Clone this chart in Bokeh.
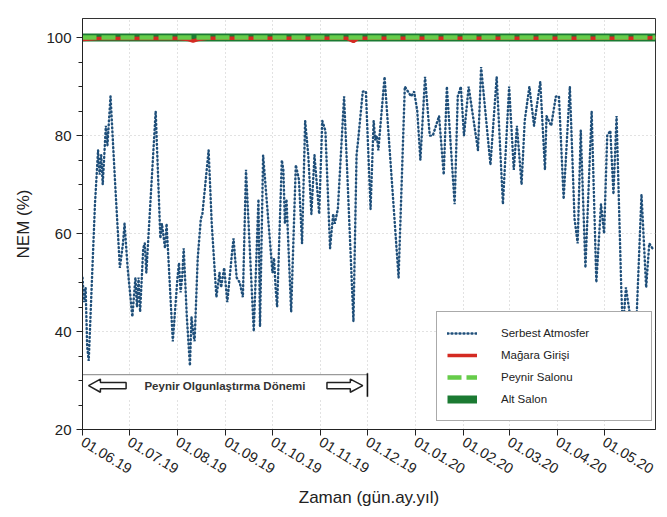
import pandas as pd
from bokeh.plotting import figure
from bokeh.models import (Range1d, FixedTicker, DatetimeTickFormatter,
                          SingleIntervalTicker, Legend, LegendItem)
from bokeh.core.properties import value
from bokeh.embed import file_html
from bokeh.resources import INLINE

# ---------------- data (days since 01.06.2019) ----------------
START = pd.Timestamp("2019-06-01")

ay_baslari = ["2019-06-01", "2019-07-01", "2019-08-01", "2019-09-01", "2019-10-01",
              "2019-11-01", "2019-12-01", "2020-01-01", "2020-02-01", "2020-03-01",
              "2020-04-01", "2020-05-01"]

serbest_gun = [0, 1, 2, 3, 4, 6, 8, 10, 11, 12, 13, 15, 16, 18, 21, 24, 26, 27, 29, 32,
               34, 35, 36, 37, 39, 40, 41, 43, 47, 50, 51, 53, 54, 58, 61, 62, 63, 64, 65, 67,
               69, 70, 71, 72, 74, 76, 77, 81, 83, 86, 88, 89, 91, 93, 96, 97, 99, 101, 103, 105,
               110, 113, 114, 116, 122, 123, 124, 125, 128, 129, 130, 131, 134, 137, 139, 141,
               143, 145, 147, 149, 152, 154, 156, 159, 161, 162, 164, 168, 174, 176, 177, 180,
               182, 185, 187, 188, 189, 190, 194, 203, 207, 209, 211, 213, 215, 217, 220, 223,
               225, 227, 229, 232, 234, 239, 241, 243, 245, 248, 254, 256, 262, 266, 270, 274,
               277, 279, 282, 284, 287, 290, 294, 297, 298, 301, 304, 306, 309, 313, 316, 318,
               320, 323, 327, 330, 333, 335, 337, 339, 341, 343, 346, 347, 349, 355, 359, 362,
               364, 366]
serbest_nem = [51, 46, 49, 37, 34, 50, 66, 77, 72, 76, 70, 82, 78, 88, 70, 53, 58, 62, 53, 43,
               51, 45, 51, 44, 57, 58, 52, 63, 85, 59, 62, 57, 62, 38, 51, 54, 48, 51, 57, 43,
               33, 43, 40, 38, 55, 63, 64, 77, 62, 47, 52, 49, 53, 46, 56, 59, 51, 50, 47, 73,
               40, 67, 41, 76, 52, 55, 49, 45, 75, 73, 62, 67, 44, 74, 71, 58,
               83, 76, 64, 76, 64, 83, 81, 57, 64, 62, 65, 88, 42, 76, 79, 89,
               89, 65, 83, 79, 80, 77, 92, 51, 90, 89, 88, 89, 85, 75, 92, 80,
               80, 82, 84, 72, 90, 66, 88, 90, 80, 90, 77, 94, 74, 92, 66, 90,
               73, 82, 70, 83, 90, 82, 91, 73, 84, 82, 88, 88, 67, 90, 63, 58,
               81, 53, 85, 50, 66, 60, 80, 81, 68, 84, 49, 40, 49, 36, 68, 49,
               58, 57]

magara_gun = [0, 10, 60, 68, 71, 74, 80, 170, 174, 177, 360, 368]
magara_nem = [99.6, 99.8, 99.85, 99.6, 99.3, 99.6, 99.85, 99.85, 99.2, 99.85, 99.85, 100]

salon_gun = [0, 30, 61, 92, 122, 153, 183, 214, 245, 274, 305, 335, 368]
peynir_nem = [100, 100, 100, 100, 100, 100, 100, 100, 100, 100, 100, 100, 100]
alt_nem = [100, 100, 100, 100, 100, 100, 100, 100, 100, 100, 100, 100, 100]

DONEM_SON_GUN = 183          # 01.12.2019, end of ripening period
DONEM_METIN = "Peynir Olgunlaştırma Dönemi"


def tarih(gunler):
    return START + pd.to_timedelta(gunler, unit="D")


FONT = "Liberation Sans"

p = figure(width=659, height=509, x_axis_type="datetime",
           output_backend="svg", toolbar_location=None,
           x_range=Range1d(START, START + pd.Timedelta(days=368)),
           y_range=Range1d(20, 103.9),
           min_border_left=82, min_border_right=4,
           min_border_top=18, min_border_bottom=79)
p.background_fill_color = "white"
p.border_fill_color = "white"
p.outline_line_color = "#333333"
p.outline_line_width = 1

# ---------------- axes ----------------
mt = FixedTicker(ticks=[pd.Timestamp(d).value / 1e6 for d in ay_baslari])
p.xaxis.ticker = mt
p.xgrid.ticker = mt
p.xaxis.formatter = DatetimeTickFormatter(days="%d.%m.%y", months="%d.%m.%y",
                                          years="%d.%m.%y")
p.xaxis.major_label_orientation = -0.55
p.xaxis.major_label_text_font = FONT
p.xaxis.major_label_text_font_size = "14.5px"
p.xaxis.major_label_text_color = "#222222"
p.xaxis.major_tick_out = 6
p.xaxis.major_tick_in = 0
p.xaxis.axis_label = "Zaman (gün.ay.yıl)"

yt = SingleIntervalTicker(interval=20, num_minor_ticks=4)
p.yaxis.ticker = yt
p.ygrid.ticker = yt
p.yaxis.major_label_text_font = FONT
p.yaxis.major_label_text_font_size = "15px"
p.yaxis.major_label_text_color = "#222222"
p.yaxis.major_tick_out = 6
p.yaxis.major_tick_in = 0
p.yaxis.minor_tick_out = 4
p.yaxis.minor_tick_in = 0
p.yaxis.axis_label = "NEM (%)"

for ax in (p.xaxis, p.yaxis):
    ax.axis_label_text_font = FONT
    ax.axis_label_text_font_size = "17px"
    ax.axis_label_text_font_style = "normal"
    ax.axis_label_text_color = "#222222"
    ax.axis_line_color = "#222222"
    ax.major_tick_line_color = "#222222"
p.xaxis.minor_tick_line_color = None
p.yaxis.minor_tick_line_color = "#222222"
p.xaxis.axis_label_standoff = 6
p.yaxis.axis_label_standoff = 10

p.grid.grid_line_color = "#c4c4c4"
p.grid.grid_line_dash = "1 3"
p.grid.grid_line_width = 1

# ---------------- series ----------------
serbest = p.line(tarih(serbest_gun), serbest_nem, line_color="#1f4f7a",
                 line_width=2.4, line_dash="1 3", line_cap="round")
alt = p.line(tarih(salon_gun), alt_nem, line_color="#1b7a32", line_width=8)
magara = p.line(tarih(magara_gun), magara_nem, line_color="#d42a22", line_width=3.5)
peynir = p.line(tarih(salon_gun), peynir_nem, line_color="#66cc4a", line_width=4.5,
                line_dash="14 5")

# ---------------- ripening period annotation ----------------
son = START + pd.Timedelta(days=DONEM_SON_GUN)
y_ust, y_alt, y_orta = 31.2, 26.4, 28.95
p.quad(left=[START], right=[son], bottom=[y_alt], top=[y_ust],
       fill_color="white", line_color=None)
p.segment(x0=[START], y0=[y_ust], x1=[son], y1=[y_ust], line_color="#9a9a9a",
          line_width=1.2)
p.segment(x0=[son], y0=[y_ust + 0.3], x1=[son], y1=[26.7], line_color="#111111",
          line_width=1.6)
p.text(x=[START + pd.Timedelta(days=DONEM_SON_GUN / 2)], y=[y_orta],
       text=[DONEM_METIN], text_font=value(FONT), text_font_style="bold",
       text_font_size="11.5px", text_color="#333333", text_align="center",
       text_baseline="middle")


def ok(tip, govde_bas, bas_taban):
    # hollow block arrow polygon (day offsets)
    hh, sh = 1.35, 0.65
    xs = [tip, bas_taban, bas_taban, govde_bas, govde_bas, bas_taban, bas_taban]
    ys = [y_orta, y_orta + hh, y_orta + sh, y_orta + sh, y_orta - sh, y_orta - sh,
          y_orta - hh]
    return list(tarih(xs)), ys


lx, ly = ok(3.9, 28, 11.5)
rx, ry = ok(180, 157, 172)
p.patches(xs=[lx, rx], ys=[ly, ry], fill_color="white", line_color="#222222",
          line_width=1.5)

# ---------------- legend ----------------
legend = Legend(items=[LegendItem(label="Serbest Atmosfer", renderers=[serbest]),
                       LegendItem(label="Mağara Girişi", renderers=[magara]),
                       LegendItem(label="Peynir Salonu", renderers=[peynir]),
                       LegendItem(label="Alt Salon", renderers=[alt])],
                location=(354, 8), glyph_width=30, glyph_height=22,
                label_height=22, label_width=140, label_standoff=24,
                padding=10, spacing=0, margin=0,
                border_line_color="#555555", border_line_width=1,
                label_text_font=FONT, label_text_font_size="11.5px",
                label_text_color="#222222", background_fill_alpha=1)
p.add_layout(legend)

open("out.html", "w").write(file_html(p, INLINE))
